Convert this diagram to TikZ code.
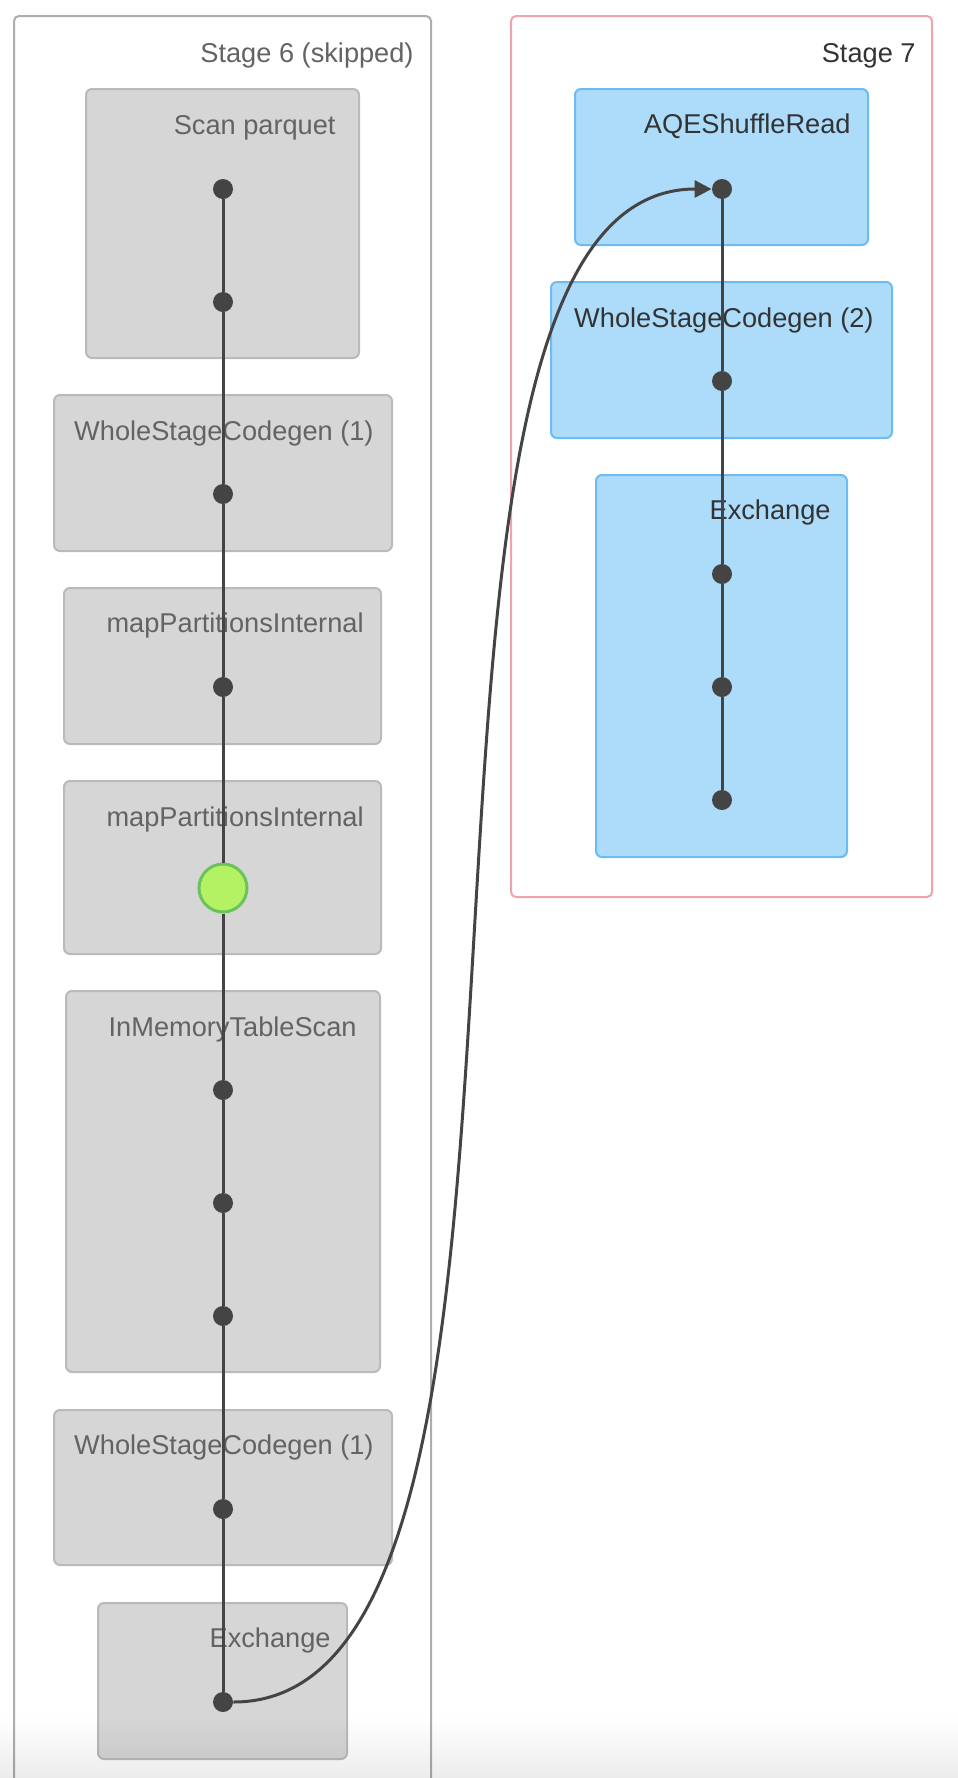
\documentclass[tikz,border=0pt]{standalone}
\usepackage{fontspec}
\setmainfont{Liberation Sans}
\usetikzlibrary{arrows.meta}
\definecolor{stagesixline}{HTML}{ADADAD}
\definecolor{stagesevenline}{HTML}{EFA3AE}
\definecolor{greyfill}{HTML}{D6D6D6}
\definecolor{greyline}{HTML}{BABABA}
\definecolor{bluefill}{HTML}{ADDCFB}
\definecolor{blueline}{HTML}{6DBBF1}
\definecolor{greytext}{HTML}{636363}
\definecolor{darktext}{HTML}{333333}
\definecolor{dotcol}{HTML}{444444}
\definecolor{limefill}{HTML}{B4F263}
\definecolor{limeline}{HTML}{6CC35B}
\begin{document}
\begin{tikzpicture}[x=0.5pt,y=-0.5pt,
  stagesix/.style={draw=stagesixline,line width=1pt,fill=white,rounded corners=2.5pt},
  stageseven/.style={draw=stagesevenline,line width=1pt,fill=white,rounded corners=2.5pt},
  greybox/.style={draw=greyline,line width=1pt,fill=greyfill,rounded corners=3pt},
  bluebox/.style={draw=blueline,line width=1pt,fill=bluefill,rounded corners=3pt},
  greylabel/.style={anchor=base east,inner sep=0pt,text=greytext,font=\fontsize{13.6pt}{16pt}\selectfont},
  bluelabel/.style={anchor=base east,inner sep=0pt,text=darktext,font=\fontsize{13.6pt}{16pt}\selectfont},
  dot/.style={circle,fill=dotcol,inner sep=0pt,minimum size=10pt},
  cached/.style={circle,fill=limefill,draw=limeline,line width=1.5pt,inner sep=0pt,minimum size=24pt},
  edge/.style={draw=dotcol,line width=1.5pt}]
\useasboundingbox (0,0) rectangle (958,1778);
\fill[white] (0,0) rectangle (958,1778);
\begin{scope}
\clip (0,0) rectangle (958,1778);
% stage 6
\path[stagesix] (14,16) rectangle (431,1820);
\node[greylabel] (t6) at (414,62) {Stage 6 (skipped)};
\path[greybox] (86,89) rectangle (359,358);
\node[greylabel] (l1) at (336,134) {Scan parquet};
\path[greybox] (54,395) rectangle (392,551);
\node[greylabel] (l2) at (374,440) {WholeStageCodegen (1)};
\path[greybox] (64,588) rectangle (381,744);
\node[greylabel] (l3) at (364,632) {mapPartitionsInternal};
\path[greybox] (64,781) rectangle (381,954);
\node[greylabel] (l4) at (364,826) {mapPartitionsInternal};
\path[greybox] (66,991) rectangle (380,1372);
\node[greylabel] (l5) at (357,1036) {InMemoryTableScan};
\path[greybox] (54,1410) rectangle (392,1565);
\node[greylabel] (l6) at (374,1454) {WholeStageCodegen (1)};
\path[greybox] (98,1603) rectangle (347,1759);
\node[greylabel] (l7) at (331,1647) {Exchange};
% stage 7
\path[stageseven] (511,16) rectangle (932,897);
\node[bluelabel] (t7) at (916,62) {Stage 7};
\path[bluebox] (575,89) rectangle (868,245);
\node[bluelabel] (m1) at (851,133) {AQEShuffleRead};
\path[bluebox] (551,282) rectangle (892,438);
\node[bluelabel] (m2) at (874,327) {WholeStageCodegen (2)};
\path[bluebox] (596,475) rectangle (847,857);
\node[bluelabel] (m3) at (831,519) {Exchange};
% stage 6 dots
\node[dot] (s1) at (223,189) {};
\node[dot] (s2) at (223,302) {};
\node[dot] (s3) at (223,494) {};
\node[dot] (s4) at (223,687) {};
\node[cached] (s5) at (223,888) {};
\node[dot] (s6) at (223,1090) {};
\node[dot] (s7) at (223,1203) {};
\node[dot] (s8) at (223,1316) {};
\node[dot] (s9) at (223,1509) {};
\node[dot] (s10) at (223,1702) {};
% stage 7 dots
\node[dot] (d1) at (722,189) {};
\node[dot] (d2) at (722,381) {};
\node[dot] (d3) at (722,574) {};
\node[dot] (d4) at (722,687) {};
\node[dot] (d5) at (722,800) {};
% edges
\foreach \a/\b in {s1/s2,s2/s3,s3/s4,s4/s5,s5/s6,s6/s7,s7/s8,s8/s9,s9/s10,d1/d2,d2/d3,d3/d4,d4/d5}
  \path[edge] (\a) -- (\b);
\path[edge,-{Triangle[length=8.5pt,width=8.5pt]}] (s10.east) .. controls (618,1702) and (335,189) .. (d1.west);
% bottom fade
\foreach \i [evaluate=\i as \op using 0.075*\i/31] in {0,...,31}
  \fill[black,opacity=\op] (0,1716+2*\i) rectangle (958,1718+2*\i);
\end{scope}
\end{tikzpicture}
\end{document}
